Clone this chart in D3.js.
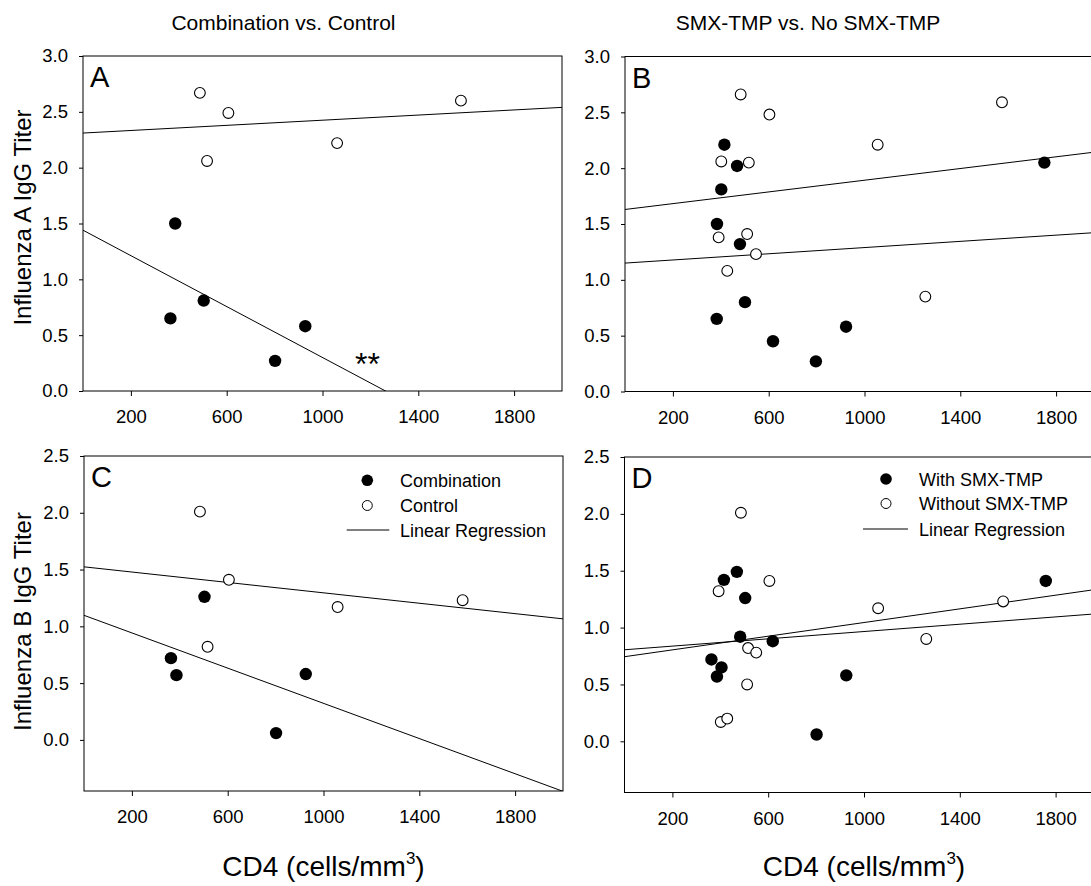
<!DOCTYPE html>
<html>
<head>
<meta charset="utf-8">
<script src="https://cdn.jsdelivr.net/npm/d3@7"></script>
<style>
  html, body { margin: 0; padding: 0; background: #fff; }
  svg { display: block; font-family: Arial, "Liberation Sans", sans-serif; }
</style>
</head>
<body>
<svg id="chart" width="1091" height="886"></svg>
<script>
// ---------------- DATA ----------------
const xTickValues = [200, 600, 1000, 1400, 1800];
const yTicksTop = [0, 0.5, 1.0, 1.5, 2.0, 2.5, 3.0];
const yTicksBottom = [0, 0.5, 1.0, 1.5, 2.0, 2.5];

const columnTitles = ["Combination vs. Control", "SMX-TMP vs. No SMX-TMP"];
const rowLabels = ["Influenza A IgG Titer", "Influenza B IgG Titer"];
const panelLetters = ["A", "B", "C", "D"];
const legendC = ["Combination", "Control", "Linear Regression"];
const legendD = ["With SMX-TMP", "Without SMX-TMP", "Linear Regression"];

// Panel A: [CD4, titer]
const aCombination = [[365, 0.65], [385, 1.50], [504, 0.81], [802, 0.27], [928, 0.58]];
const aControl = [[488, 2.67], [607, 2.49], [518, 2.06], [1061, 2.22], [1578, 2.60]];
const aRegCombination = [[0, 1.44], [2000, -0.84]];
const aRegControl = [[0, 2.31], [2000, 2.54]];

// Panel B
const bWith = [[415, 2.21], [468, 2.02], [402, 1.81], [384, 1.50], [480, 1.32], [501, 0.80],
               [383, 0.65], [618, 0.45], [797, 0.27], [923, 0.58], [1751, 2.05]];
const bWithout = [[483, 2.66], [603, 2.48], [1055, 2.21], [402, 2.06], [517, 2.05], [510, 1.41],
                  [391, 1.38], [547, 1.23], [427, 1.08], [1254, 0.85], [1574, 2.59]];
const bRegUpper = [[0, 1.63], [2000, 2.154]];
const bRegLower = [[0, 1.15], [2000, 1.428]];

// Panel C
const cCombination = [[503, 1.26], [363, 0.72], [386, 0.57], [926, 0.58], [802, 0.06]];
const cControl = [[484, 2.01], [605, 1.41], [1059, 1.17], [516, 0.82], [1581, 1.23]];
const cRegCombination = [[0, 1.097], [2000, -0.453]];
const cRegControl = [[0, 1.524], [2000, 1.066]];

// Panel D
const dWith = [[469, 1.49], [415, 1.42], [504, 1.26], [483, 0.92], [619, 0.88], [363, 0.72],
               [405, 0.65], [386, 0.57], [926, 0.58], [802, 0.06], [1759, 1.41]];
const dWithout = [[486, 2.01], [605, 1.41], [393, 1.32], [1059, 1.17], [1260, 0.90], [516, 0.82],
                  [550, 0.78], [512, 0.50], [402, 0.17], [429, 0.20], [1581, 1.23]];
const dRegFlat = [[0, 0.805], [2000, 1.126]];
const dRegSteep = [[0, 0.744], [2000, 1.345]];

const xDomain = [0, 2000];
const yDomainTop = [0, 3];
const yDomainBottom = [-0.45, 2.5];

// ---------------- DRAWING ----------------
const svg = d3.select("#chart");
const defs = svg.append("defs");
const FONT = 'Arial, "Liberation Sans", sans-serif';
const PW = 479;

const panels = [
  { id: "A", left: 83, top: 56, bottom: 391, yDomain: yDomainTop, yTicks: yTicksTop,
    filled: aCombination, open: aControl, lines: [aRegCombination, aRegControl] },
  { id: "B", left: 625, top: 56.5, bottom: 391.5, yDomain: yDomainTop, yTicks: yTicksTop,
    filled: bWith, open: bWithout, lines: [bRegUpper, bRegLower] },
  { id: "C", left: 84, top: 456, bottom: 791, yDomain: yDomainBottom, yTicks: yTicksBottom,
    filled: cCombination, open: cControl, lines: [cRegCombination, cRegControl] },
  { id: "D", left: 624.5, top: 457, bottom: 792.5, yDomain: yDomainBottom, yTicks: yTicksBottom,
    filled: dWith, open: dWithout, lines: [dRegFlat, dRegSteep] }
];

const scales = {};

panels.forEach((p, i) => {
  const x = d3.scaleLinear().domain(xDomain).range([p.left, p.left + PW]);
  const y = d3.scaleLinear().domain(p.yDomain).range([p.bottom, p.top]);
  scales[p.id] = { x, y };
  const g = svg.append("g");

  defs.append("clipPath").attr("id", "clip" + p.id)
    .append("rect").attr("x", p.left).attr("y", p.top)
    .attr("width", PW).attr("height", p.bottom - p.top);

  // x axis
  const xa = g.append("g").attr("transform", `translate(0,${p.bottom})`)
    .call(d3.axisBottom(x).tickValues(xTickValues).tickFormat(d3.format("d"))
      .tickSize(5).tickPadding(14).tickSizeOuter(0));
  xa.select(".domain").remove();
  xa.selectAll("text").attr("font-size", 18.5).attr("font-family", FONT).attr("fill", "#000");
  xa.selectAll("line").attr("stroke", "#000");

  // y axis
  const ya = g.append("g").attr("transform", `translate(${p.left},0)`)
    .call(d3.axisLeft(y).tickValues(p.yTicks).tickFormat(d3.format(".1f")).tickSize(4).tickPadding(11).tickSizeOuter(0));
  ya.select(".domain").remove();
  ya.selectAll("text").attr("font-size", 18.5).attr("font-family", FONT).attr("fill", "#000");
  ya.selectAll("line").attr("stroke", "#000");

  // frame
  g.append("rect").attr("x", p.left).attr("y", p.top)
    .attr("width", PW).attr("height", p.bottom - p.top)
    .attr("fill", "none").attr("stroke", "#000").attr("stroke-width", 1);

  // regression lines
  g.append("g").attr("clip-path", `url(#clip${p.id})`)
    .selectAll("line").data(p.lines).join("line")
    .attr("x1", d => x(d[0][0])).attr("y1", d => y(d[0][1]))
    .attr("x2", d => x(d[1][0])).attr("y2", d => y(d[1][1]))
    .attr("stroke", "#000").attr("stroke-width", 1);

  // points
  const pts = g.append("g").attr("clip-path", `url(#clip${p.id})`);
  pts.selectAll("circle.open").data(p.open).join("circle").attr("class", "open")
    .attr("cx", d => x(d[0])).attr("cy", d => y(d[1])).attr("r", 5.4)
    .attr("fill", "#fff").attr("stroke", "#000").attr("stroke-width", 1.1);
  pts.selectAll("circle.filled").data(p.filled).join("circle").attr("class", "filled")
    .attr("cx", d => x(d[0])).attr("cy", d => y(d[1])).attr("r", 6.2)
    .attr("fill", "#000");

  // panel letter
  g.append("text").attr("x", p.left + 7).attr("y", p.top + 31)
    .attr("font-size", 29).attr("font-family", FONT).text(panelLetters[i]);
});

// significance marker on panel A
svg.append("text")
  .attr("x", scales.A.x(1136)).attr("y", scales.A.y(0.14))
  .attr("font-size", 32).attr("font-family", FONT).text("**");

// column titles
[[283.5, 0], [808, 1]].forEach(([cx, k]) => {
  svg.append("text").attr("x", cx).attr("y", 30).attr("text-anchor", "middle")
    .attr("font-size", 21).attr("font-family", FONT).text(columnTitles[k]);
});

// row labels
[[217.5, 0], [621.5, 1]].forEach(([cy, k]) => {
  svg.append("text").attr("transform", `translate(31,${cy}) rotate(-90)`)
    .attr("text-anchor", "middle").attr("font-size", 24).attr("font-family", FONT)
    .text(rowLabels[k]);
});

// x axis titles
[323.5, 864].forEach(cx => {
  const t = svg.append("text").attr("x", cx).attr("y", 876).attr("text-anchor", "middle")
    .attr("font-size", 28).attr("font-family", FONT);
  t.append("tspan").text("CD4 (cells/mm");
  t.append("tspan").attr("font-size", 17).attr("dy", -12).text("3");
  t.append("tspan").attr("dy", 12).text(")");
});

// legends
function drawLegend(labels, cxMarker, xText, ys, lineX1, lineX2) {
  const g = svg.append("g");
  g.append("circle").attr("cx", cxMarker).attr("cy", ys[0]).attr("r", 5.8).attr("fill", "#000");
  g.append("circle").attr("cx", cxMarker).attr("cy", ys[1]).attr("r", 5).attr("fill", "#fff")
    .attr("stroke", "#000").attr("stroke-width", 1);
  g.append("line").attr("x1", lineX1).attr("x2", lineX2).attr("y1", ys[2]).attr("y2", ys[2])
    .attr("stroke", "#000").attr("stroke-width", 1);
  labels.forEach((l, k) => {
    g.append("text").attr("x", xText).attr("y", ys[k] + 6.5)
      .attr("font-size", 18).attr("font-family", FONT).text(l);
  });
}
drawLegend(legendC, 367.3, 400, [480.3, 505.5, 530], 346.7, 389.3);
drawLegend(legendD, 886, 919, [479, 503.5, 529], 863, 908);
</script>
</body>
</html>
